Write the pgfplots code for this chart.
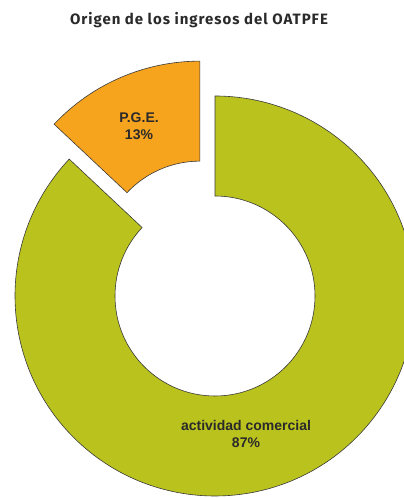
\documentclass[border=0pt]{standalone}
\usepackage{pgfplots}
\pgfplotsset{compat=1.18}
\usepackage{pgfplotstable}
\usepackage{fontspec}
\setmainfont{Liberation Sans}
\newfontfamily\titlefont[LetterSpace=6.5]{Fira Sans}
\definecolor{gr}{HTML}{BAC21E}
\definecolor{og}{HTML}{F6A41E}
\definecolor{edge}{HTML}{3A3A3A}
\definecolor{txt}{HTML}{2A2A2A}

\pgfplotstableread{
value
87
13
}\shares

\begin{document}
\begin{tikzpicture}
\pgfplotstablegetelem{0}{value}\of\shares \edef\va{\pgfplotsretval}
\pgfplotstablegetelem{1}{value}\of\shares \edef\vb{\pgfplotsretval}
\pgfmathsetmacro\Ro{200}
\pgfmathsetmacro\Ri{100}
\pgfmathsetmacro\aA{90}
\pgfmathsetmacro\aB{90+360*\vb/(\va+\vb)}
\pgfmathsetmacro\aC{450}
\pgfmathsetmacro\aMid{(\aA+\aB)/2}
\pgfmathsetmacro\ex{38}
\pgfmathsetmacro\ox{\ex*cos(\aMid)}
\pgfmathsetmacro\oy{\ex*sin(\aMid)}
% orange points
\pgfmathsetmacro\oAx{\ox+\Ro*cos(\aA)}
\pgfmathsetmacro\oAy{\oy+\Ro*sin(\aA)}
\pgfmathsetmacro\oBx{\ox+\Ri*cos(\aB)}
\pgfmathsetmacro\oBy{\oy+\Ri*sin(\aB)}
% green points
\pgfmathsetmacro\gAx{\Ro*cos(\aB)}
\pgfmathsetmacro\gAy{\Ro*sin(\aB)}
\pgfmathsetmacro\gBx{\Ri*cos(\aC)}
\pgfmathsetmacro\gBy{\Ri*sin(\aC)}
\begin{axis}[x=1pt,y=1pt,xmin=-215,xmax=189,ymin=-202,ymax=296,
  hide axis, clip=true, scale only axis]
\filldraw[fill=gr, draw=edge, line width=0.6pt, line join=miter]
  (axis cs:\gAx,\gAy) arc[start angle=\aB, end angle=\aC, radius=\Ro]
  -- (axis cs:\gBx,\gBy) arc[start angle=\aC, end angle=\aB, radius=\Ri] -- cycle;
\filldraw[fill=og, draw=edge, line width=0.6pt, line join=miter]
  (axis cs:\oAx,\oAy) arc[start angle=\aA, end angle=\aB, radius=\Ro]
  -- (axis cs:\oBx,\oBy) arc[start angle=\aB, end angle=\aA, radius=\Ri] -- cycle;
\node[font=\fontsize{14}{17}\selectfont\bfseries, text=txt, align=center]
  at (axis cs:-76,170) {P.G.E.\\13\%};
\node[font=\fontsize{14}{17}\selectfont\bfseries, text=txt, align=center]
  at (axis cs:31,-138) {actividad comercial\\87\%};
\node[font=\titlefont\fontsize{15}{18}\selectfont\bfseries, text=txt]
  at (axis cs:-16,276) {Origen de los ingresos del OATPFE};
\end{axis}
\pgfresetboundingbox
\path[use as bounding box] (current axis.south west) rectangle (current axis.north east);
\end{tikzpicture}
\end{document}
